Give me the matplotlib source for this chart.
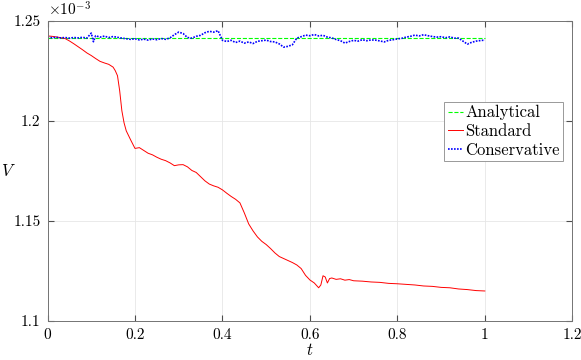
import matplotlib
matplotlib.use("Agg")
import matplotlib.pyplot as plt
import numpy as np

# values in units of 1e-3
t_std = [0.00, 0.01, 0.02, 0.03, 0.04, 0.05, 0.06, 0.07, 0.08, 0.09,
         0.10, 0.11, 0.12, 0.13, 0.14, 0.15, 0.155, 0.16, 0.165, 0.17,
         0.175, 0.18, 0.19, 0.20, 0.21, 0.22, 0.23, 0.24, 0.25, 0.26,
         0.27, 0.28, 0.29, 0.30, 0.31, 0.32, 0.33, 0.34, 0.35, 0.36,
         0.37, 0.38, 0.39, 0.40, 0.41, 0.42, 0.43, 0.44, 0.45, 0.46,
         0.47, 0.48, 0.49, 0.50, 0.51, 0.52, 0.53, 0.54, 0.55, 0.56,
         0.57, 0.58, 0.59, 0.60, 0.61, 0.62, 0.625, 0.63, 0.635, 0.64,
         0.645, 0.65, 0.66, 0.67, 0.68, 0.69, 0.70, 0.72, 0.74, 0.76,
         0.78, 0.80, 0.82, 0.84, 0.86, 0.88, 0.90, 0.92, 0.94, 0.96,
         0.98, 1.00]
v_std = [1.2424, 1.2422, 1.2419, 1.2415, 1.2411, 1.2399, 1.2385, 1.2370, 1.2355, 1.2339,
         1.2326, 1.2311, 1.2297, 1.2289, 1.2282, 1.2268, 1.2250, 1.2225, 1.2150, 1.2050,
         1.1990, 1.1950, 1.1905, 1.1862, 1.1866, 1.1852, 1.1838, 1.1830, 1.1818, 1.1808,
         1.1801, 1.1790, 1.1776, 1.1780, 1.1781, 1.1770, 1.1752, 1.1742, 1.1721, 1.1700,
         1.1684, 1.1675, 1.1668, 1.1655, 1.1638, 1.1622, 1.1608, 1.1590, 1.1540, 1.1485,
         1.1450, 1.1420, 1.1398, 1.1382, 1.1362, 1.1340, 1.1322, 1.1312, 1.1302, 1.1292,
         1.1280, 1.1262, 1.1228, 1.1205, 1.1190, 1.1166, 1.1180, 1.1226, 1.1220, 1.1190,
         1.1212, 1.1215, 1.1208, 1.1211, 1.1204, 1.1207, 1.1201, 1.1199, 1.1195, 1.1193,
         1.1188, 1.1186, 1.1183, 1.1180, 1.1175, 1.1173, 1.1168, 1.1166, 1.1160, 1.1157,
         1.1152, 1.1150]

t_con = [0.00, 0.01, 0.02, 0.03, 0.04, 0.05, 0.06, 0.07, 0.08, 0.09,
         0.10, 0.105, 0.11, 0.12, 0.13, 0.14, 0.15, 0.16, 0.17, 0.18,
         0.19, 0.20, 0.21, 0.22, 0.23, 0.24, 0.25, 0.26, 0.27, 0.28,
         0.29, 0.30, 0.31, 0.32, 0.33, 0.34, 0.35, 0.36, 0.37, 0.38,
         0.39, 0.40, 0.41, 0.42, 0.43, 0.44, 0.45, 0.46, 0.47, 0.48,
         0.49, 0.50, 0.51, 0.52, 0.53, 0.54, 0.55, 0.56, 0.57, 0.58,
         0.59, 0.60, 0.61, 0.62, 0.63, 0.64, 0.65, 0.66, 0.67, 0.68,
         0.69, 0.70, 0.71, 0.72, 0.73, 0.74, 0.75, 0.76, 0.77, 0.78,
         0.79, 0.80, 0.81, 0.82, 0.83, 0.84, 0.85, 0.86, 0.87, 0.88,
         0.89, 0.90, 0.91, 0.92, 0.93, 0.94, 0.95, 0.96, 0.97, 0.98,
         0.99, 1.00]
v_con = [1.2418, 1.2415, 1.2417, 1.2414, 1.2416, 1.2413, 1.2416, 1.2414, 1.2417, 1.2413,
         1.2438, 1.2395, 1.2425, 1.2418, 1.2423, 1.2416, 1.2421, 1.2417, 1.2413, 1.2410,
         1.2407, 1.2410, 1.2404, 1.2408, 1.2403, 1.2409, 1.2405, 1.2411, 1.2407, 1.2414,
         1.2430, 1.2443, 1.2436, 1.2416, 1.2413, 1.2422, 1.2427, 1.2440, 1.2447, 1.2443,
         1.2450, 1.2402, 1.2396, 1.2402, 1.2391, 1.2398, 1.2388, 1.2394, 1.2386, 1.2397,
         1.2400, 1.2403, 1.2396, 1.2394, 1.2384, 1.2368, 1.2372, 1.2380, 1.2413, 1.2420,
         1.2428, 1.2425, 1.2431, 1.2424, 1.2427, 1.2418, 1.2414, 1.2406, 1.2400, 1.2388,
         1.2396, 1.2402, 1.2398, 1.2405, 1.2400, 1.2404, 1.2403, 1.2399, 1.2394, 1.2402,
         1.2405, 1.2409, 1.2412, 1.2418, 1.2422, 1.2428, 1.2424, 1.2430, 1.2425, 1.2421,
         1.2418, 1.2420, 1.2415, 1.2419, 1.2413, 1.2413, 1.2398, 1.2383, 1.2392, 1.2398,
         1.2401, 1.2403]

t_ana = [0.0, 1.0]
v_ana = [1.2416, 1.2416]

xticks = [0, 0.2, 0.4, 0.6, 0.8, 1.0, 1.2]
yticks = [1.1, 1.15, 1.2, 1.25]

plt.rcParams["font.family"] = "serif"
plt.rcParams["font.serif"] = ["cmr10"]
plt.rcParams["mathtext.fontset"] = "cm"
plt.rcParams["axes.formatter.use_mathtext"] = True

fig = plt.figure(figsize=(5.81, 3.6), dpi=100)
ax = fig.add_axes([0.0818, 0.1083, 0.9032, 0.8342])

ax.plot(t_ana, v_ana, color=(0, 1, 0), ls="--", lw=0.8, label="Analytical")
ax.plot(t_std, v_std, color=(1, 0, 0), lw=0.7, label="Standard")
ax.plot(t_con, v_con, color=(0, 0, 1), ls=(0, (1, 0.8)), lw=1.2, label="Conservative")

ax.set_xlim(0, 1.2)
ax.set_ylim(1.1, 1.25)
ax.set_xticks(xticks)
ax.set_yticks(yticks)
ax.set_xticklabels([f"{x:g}" for x in xticks])
ax.set_yticklabels([f"{y:g}" for y in yticks])
ax.tick_params(direction="in", top=True, right=True, labelsize=11,
               color="0.3", length=4, pad=5)
ax.grid(True, color="0.9", lw=0.6)
for s in ax.spines.values():
    s.set_color("0.45")
    s.set_linewidth(0.7)

ax.set_xlabel("$t$", fontsize=12, labelpad=0)
ax.set_ylabel("$V$", fontsize=12, rotation=0, ha="center", va="center")
ax.yaxis.set_label_coords(-0.074, 0.5)
ax.text(0.0, 1.006, r"$\times10^{-3}$", transform=ax.transAxes,
        fontsize=11, ha="left", va="bottom")

leg = ax.legend(loc="upper right", bbox_to_anchor=(0.982, 0.73), fontsize=12,
                fancybox=False, framealpha=1, edgecolor="0.6",
                handlelength=0.95, handletextpad=0.1, borderpad=0.2,
                labelspacing=0.2, borderaxespad=0)
leg.get_frame().set_linewidth(0.7)

fig.savefig("out.png", dpi=100)
